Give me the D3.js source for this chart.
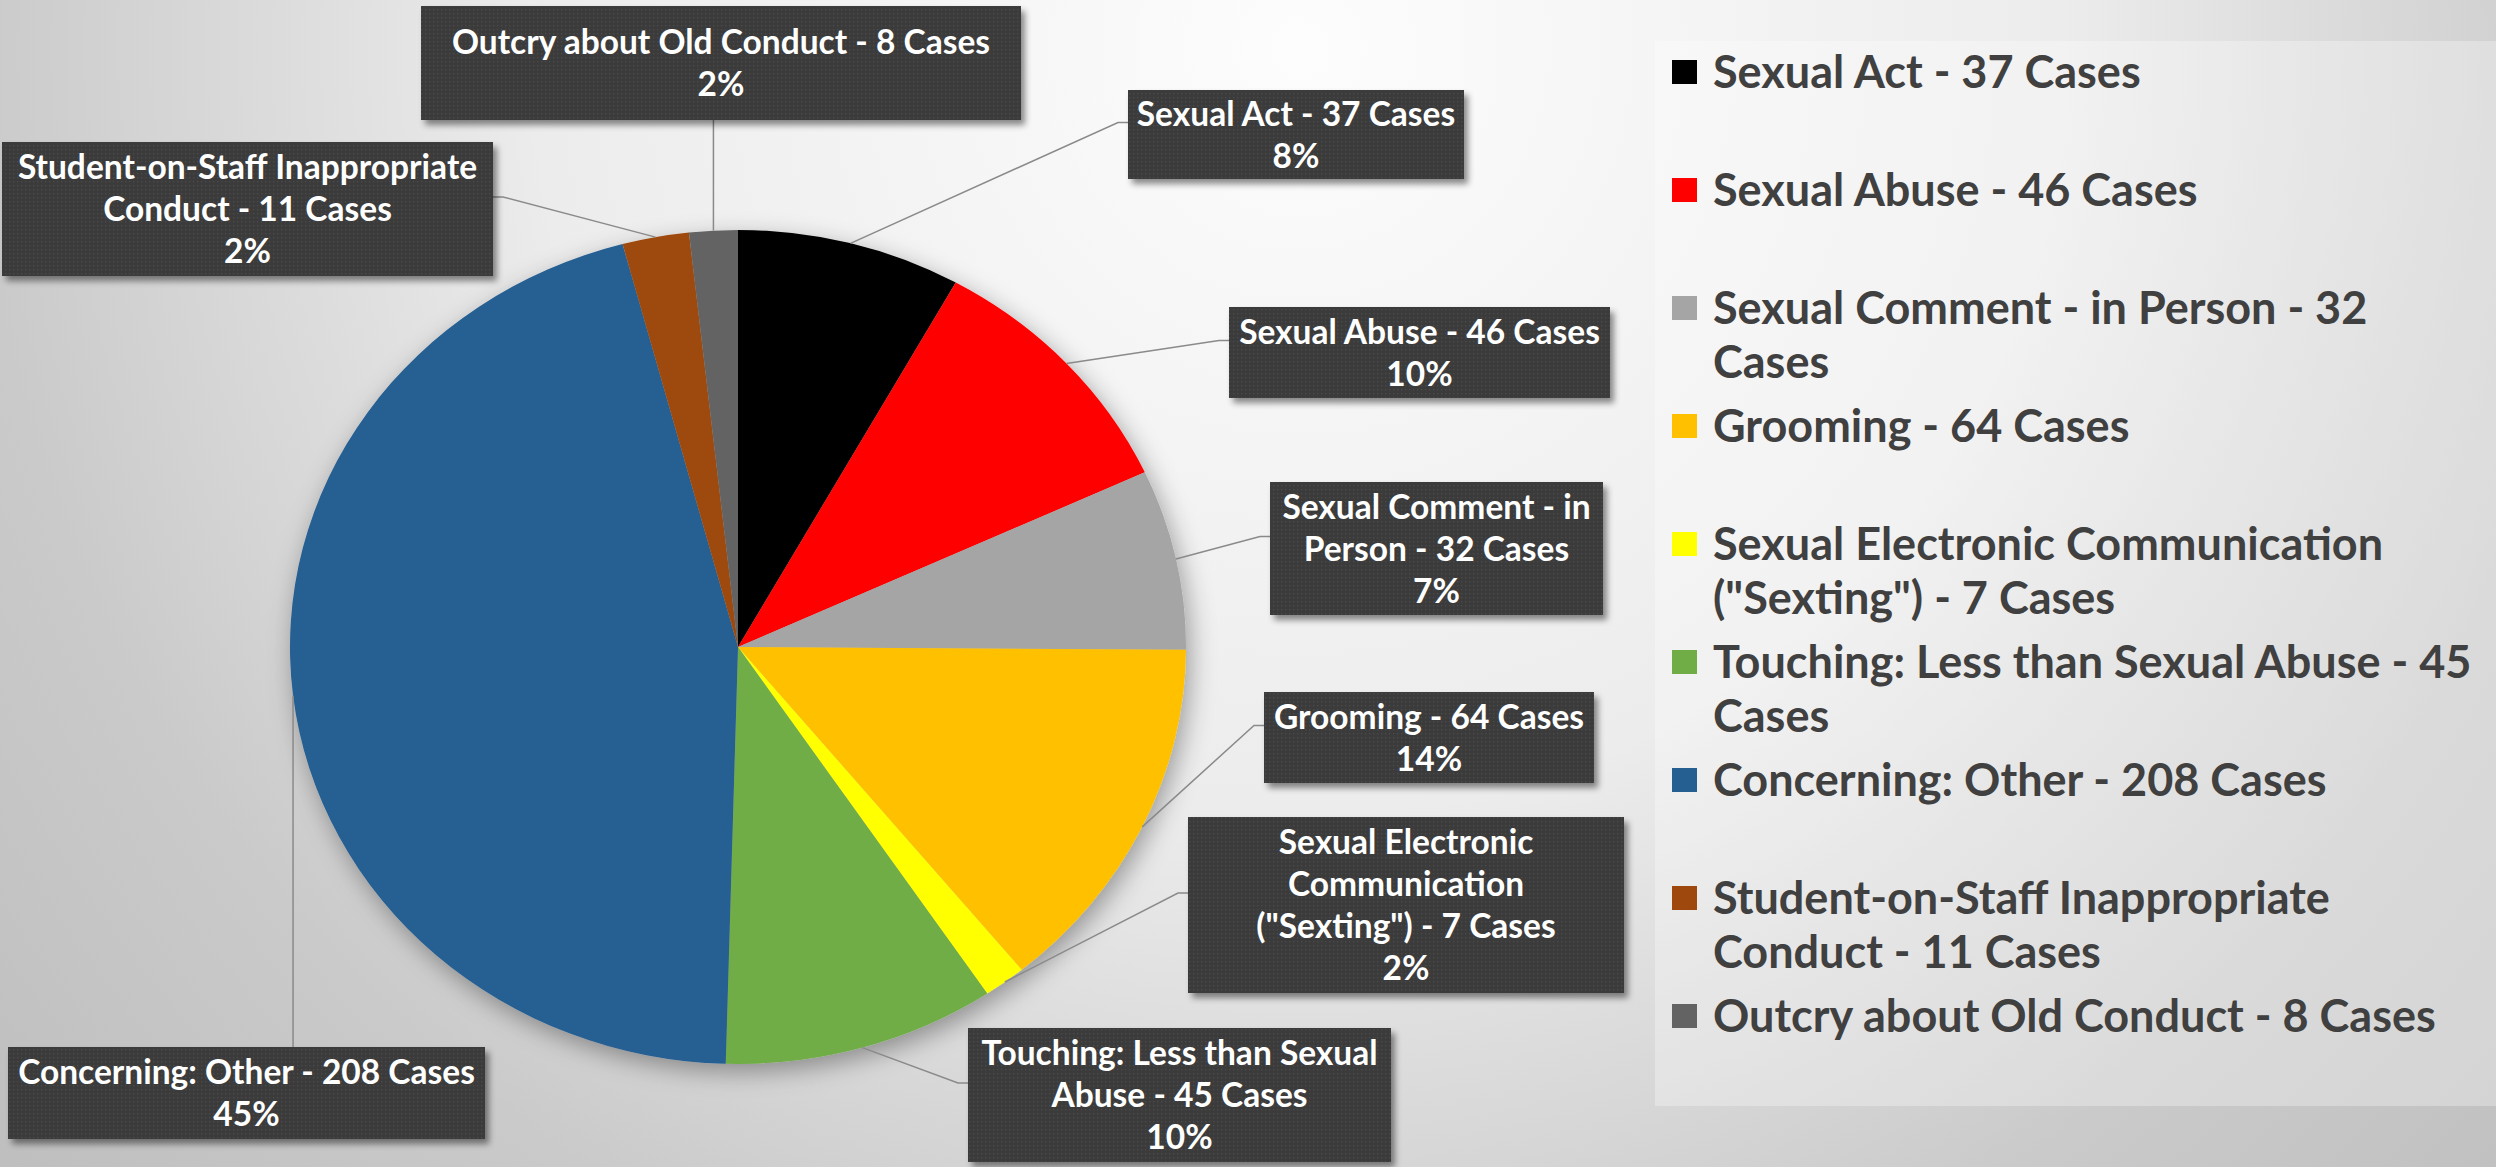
<!DOCTYPE html>
<html lang="en">
<head>
<meta charset="utf-8">
<script src="https://d3js.org/d3.v7.min.js"></script>
<title>Cases by Type</title>
<style>
  html, body { margin: 0; padding: 0; background: #d0d0d0; overflow: hidden; }
  svg { display: block; }
</style>
</head>
<body>
<div id="chart"></div>
<script>

const categories = ["Sexual Act", "Sexual Abuse", "Sexual Comment - in Person", "Grooming",
  "Sexual Electronic Communication (\"Sexting\")", "Touching: Less than Sexual Abuse",
  "Concerning: Other", "Student-on-Staff Inappropriate Conduct", "Outcry about Old Conduct"];
const cases = [37, 46, 32, 64, 7, 45, 208, 11, 8];
const colors = ["#000000", "#ff0000", "#a5a5a5", "#ffc000", "#ffff00",
  "#70ad47", "#255e91", "#9e480e", "#636363"];

// word index where each text starts a new line
const labelBreaks = [[], [], [4], [], [2, 3], [4], [], [2], []];
const legendBreaks = [[], [], [7], [], [3], [7], [], [2], []];

// label boxes as they sit on the slide: x, y, w, h, side the leader attaches to
const labelBoxes = [
  [1128, 90, 336, 89, "left"],
  [1229, 307, 381, 91, "left"],
  [1270, 482, 333, 133, "left"],
  [1264, 692, 330, 91, "left"],
  [1188, 817, 436, 176, "left"],
  [968, 1028, 423, 134, "left"],
  [8, 1047, 477, 92, "top"],
  [2, 142, 491, 134, "right"],
  [421, 6, 600, 114, "bottom"]
];

const W = 2496, H = 1167;
const cx = 738, cy = 647, rx = 448, ry = 417;
const sx = rx / ry;

const svg = d3.select("#chart")
  .append("svg")
    .attr("width", W)
    .attr("height", H);

const defs = svg.append("defs");

const bg = defs.append("radialGradient")
  .attr("id", "bg")
  .attr("gradientUnits", "userSpaceOnUse")
  .attr("cx", 1300).attr("cy", 50).attr("r", 1700);
[[0, "#fdfdfd"], [0.45, "#ececec"], [0.6, "#dcdcdc"], [0.78, "#cacaca"], [1, "#bfbfbf"]]
  .forEach(s => bg.append("stop").attr("offset", s[0]).attr("stop-color", s[1]));

const dots = defs.append("pattern")
  .attr("id", "dots")
  .attr("width", 4).attr("height", 4)
  .attr("patternUnits", "userSpaceOnUse");
dots.append("rect").attr("width", 4).attr("height", 4).attr("fill", "#3b3b3b");
dots.append("rect").attr("x", 1).attr("y", 1).attr("width", 1.3).attr("height", 1.3).attr("fill", "#4c4c4c");

defs.append("filter").attr("id", "boxShadow")
  .attr("x", "-10%").attr("y", "-10%").attr("width", "130%").attr("height", "140%")
  .append("feDropShadow")
    .attr("dx", 4).attr("dy", 5).attr("stdDeviation", 3)
    .attr("flood-color", "#000").attr("flood-opacity", 0.45);

defs.append("filter").attr("id", "pieShadow")
  .attr("x", "-20%").attr("y", "-20%").attr("width", "140%").attr("height", "140%")
  .append("feDropShadow")
    .attr("dx", 4).attr("dy", 8).attr("stdDeviation", 12)
    .attr("flood-color", "#000").attr("flood-opacity", 0.35);

svg.append("rect")
  .attr("width", W).attr("height", H)
  .attr("fill", "url(#bg)");

// legend panel
svg.append("rect")
  .attr("x", 1655).attr("y", 41)
  .attr("width", W - 1655).attr("height", 1065)
  .attr("fill", "#fff").attr("fill-opacity", 0.3);

const data = categories.map((c, i) => ({ name: c, value: cases[i], color: colors[i], i: i }));
const total = d3.sum(cases);

const pie = d3.pie().sort(null).value(d => d.value);
const arcs = pie(data);
const arc = d3.arc().innerRadius(0).outerRadius(ry);
const edge = d3.arc().innerRadius(ry).outerRadius(ry);

svg.append("g")
  .attr("transform", `translate(${cx},${cy}) scale(${sx},1)`)
  .attr("filter", "url(#pieShadow)")
  .selectAll("path")
  .data(arcs)
  .join("path")
    .attr("d", arc)
    .attr("fill", d => d.data.color);

function splitLines(text, breaks) {
  const words = text.split(" ");
  const lines = [];
  let start = 0;
  breaks.concat([words.length]).forEach(b => {
    lines.push(words.slice(start, b).join(" "));
    start = b;
  });
  return lines;
}

// leader lines
const line = d3.line();
svg.append("g")
  .selectAll("path")
  .data(arcs)
  .join("path")
    .attr("fill", "none")
    .attr("stroke", "#8a8a8a")
    .attr("stroke-width", 1.5)
    .attr("d", d => {
      const c = edge.centroid(d);
      const p = [cx + c[0] * sx, cy + c[1]];
      const [bx, by, bw, bh, side] = labelBoxes[d.index];
      const ly = by + bh / 2 - 12;
      if (side === "left") return line([p, [bx - 10, ly], [bx, ly]]);
      if (side === "right") return line([p, [bx + bw + 10, ly], [bx + bw, ly]]);
      if (side === "top") return line([p, [p[0], by]]);
      return line([p, [p[0], by + bh]]);
    });

// data labels
const labels = svg.append("g")
  .selectAll("g")
  .data(arcs)
  .join("g");

labels.append("rect")
  .attr("x", d => labelBoxes[d.index][0])
  .attr("y", d => labelBoxes[d.index][1])
  .attr("width", d => labelBoxes[d.index][2])
  .attr("height", d => labelBoxes[d.index][3])
  .attr("fill", "url(#dots)")
  .attr("filter", "url(#boxShadow)");

labels.each(function(d) {
  const [bx, by, bw, bh] = labelBoxes[d.index];
  const lines = splitLines(`${d.data.name} - ${d.data.value} Cases`, labelBreaks[d.index]);
  lines.push(Math.round(d.data.value / total * 100) + "%");
  const n = lines.length;
  d3.select(this).append("text")
    .attr("text-anchor", "middle")
    .style("font-family", "Lato, 'Open Sans', sans-serif")
    .style("font-weight", "bold")
    .style("font-size", "33.5px")
    .attr("fill", "#ffffff")
    .selectAll("tspan")
    .data(lines)
    .join("tspan")
      .attr("x", bx + bw / 2)
      .attr("y", (t, j) => by + bh / 2 + (j - (n - 1) / 2) * 42)
      .attr("dy", "0.36em")
      .text(t => t);
});

// legend
const legendY = d3.scalePoint()
  .domain(categories)
  .range([72, 1016]);

const legend = svg.append("g")
  .selectAll("g")
  .data(data)
  .join("g")
    .attr("transform", d => `translate(1672,${legendY(d.name)})`);

legend.append("rect")
  .attr("x", 0).attr("y", -12)
  .attr("width", 25).attr("height", 24)
  .attr("fill", d => d.color);

legend.append("text")
  .style("font-family", "Lato, 'Open Sans', sans-serif")
  .style("font-weight", "bold")
  .style("font-size", "45px")
  .attr("fill", "#404040")
  .selectAll("tspan")
  .data(d => splitLines(`${d.name} - ${d.value} Cases`, legendBreaks[d.i]))
  .join("tspan")
    .attr("x", 41)
    .attr("y", (t, j) => j * 54)
    .attr("dy", "0.36em")
    .text(t => t);

</script>
</body>
</html>
